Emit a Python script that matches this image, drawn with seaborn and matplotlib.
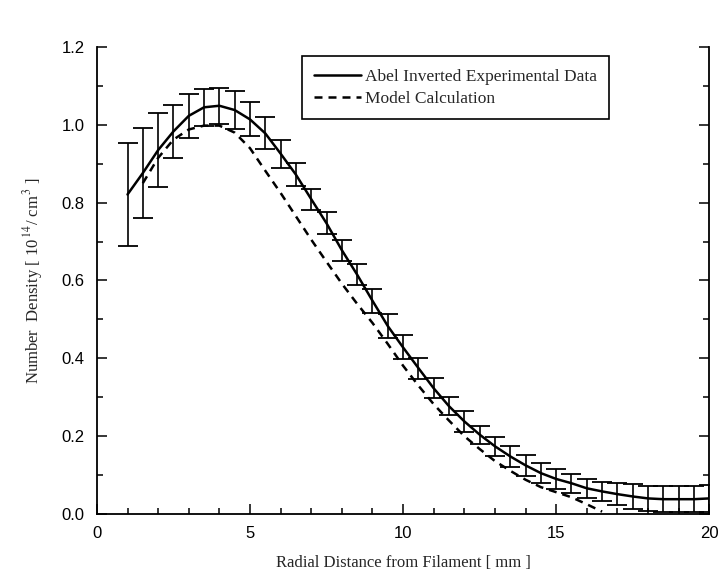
import numpy as np
import pandas as pd
import matplotlib
matplotlib.use("Agg")
import matplotlib.pyplot as plt
from matplotlib.ticker import MultipleLocator
import seaborn as sns

# Radial positions of the Abel-inverted profile [mm]
radius_exp = [1.0, 1.5, 2.0, 2.5, 3.0, 3.5, 4.0, 4.5, 5.0, 5.5, 6.0, 6.5, 7.0,
              7.5, 8.0, 8.5, 9.0, 9.5, 10.0, 10.5, 11.0, 11.5, 12.0, 12.5,
              13.0, 13.5, 14.0, 14.5, 15.0, 15.5, 16.0, 16.5, 17.0, 17.5,
              18.0, 18.5, 19.0, 19.5, 20.0]
# Number density [1e14 / cm^3]
density_exp = [0.821, 0.876, 0.935, 0.983, 1.023, 1.045, 1.049, 1.038, 1.014,
               0.978, 0.926, 0.872, 0.809, 0.747, 0.678, 0.615, 0.548, 0.483,
               0.428, 0.375, 0.323, 0.277, 0.238, 0.204, 0.174, 0.148, 0.125,
               0.105, 0.090, 0.079, 0.066, 0.058, 0.051, 0.045, 0.040, 0.038,
               0.038, 0.038, 0.040]
# Uncertainty of the inversion (half width)
density_err = [0.133, 0.115, 0.095, 0.068, 0.057, 0.047, 0.046, 0.050, 0.044,
               0.041, 0.036, 0.030, 0.027, 0.028, 0.027, 0.027, 0.031, 0.030,
               0.031, 0.027, 0.026, 0.023, 0.027, 0.023, 0.024, 0.026, 0.027,
               0.025, 0.026, 0.025, 0.024, 0.025, 0.028, 0.031, 0.032, 0.033,
               0.034, 0.034, 0.034]

# Model calculation
radius_model = [1.5, 2.0, 2.5, 3.0, 3.5, 4.0, 4.5, 5.0, 5.5, 6.0, 6.5, 7.0,
                7.5, 8.0, 8.5, 9.0, 9.5, 10.0, 10.5, 11.0, 11.5, 12.0, 12.5,
                13.0, 13.5, 14.0, 14.5, 15.0, 15.5, 16.0, 16.5]
density_model = [0.850, 0.915, 0.962, 0.988, 0.998, 0.998, 0.980, 0.940, 0.882,
                 0.825, 0.765, 0.705, 0.648, 0.592, 0.540, 0.491, 0.437, 0.381,
                 0.330, 0.282, 0.240, 0.200, 0.167, 0.136, 0.111, 0.088, 0.069,
                 0.056, 0.043, 0.025, 0.006]

exp_df = pd.DataFrame({"r": radius_exp, "n": density_exp, "err": density_err})
model_df = pd.DataFrame({"r": radius_model, "n": density_model})

sns.set_style("ticks")
plt.rcParams["font.family"] = ["Liberation Serif", "DejaVu Serif"]
plt.rcParams["mathtext.fontset"] = "stix"

fig = plt.figure(figsize=(7.23, 5.73), dpi=100)
ax = fig.add_axes([0.134, 0.103, 0.847, 0.815])

ax.errorbar(exp_df["r"], exp_df["n"], yerr=exp_df["err"], fmt="none",
            ecolor="black", elinewidth=1.2, capsize=7.5, capthick=1.3,
            zorder=2)
sns.lineplot(data=exp_df, x="r", y="n", ax=ax, color="black", lw=1.8,
             label="Abel Inverted Experimental Data", zorder=3)
sns.lineplot(data=model_df, x="r", y="n", ax=ax, color="black", lw=1.8,
             linestyle=(0, (3.2, 2.4)), label="Model Calculation", zorder=3)

ax.set_xlim(0, 20)
ax.set_ylim(0, 1.2)
ax.xaxis.set_major_locator(MultipleLocator(5))
ax.xaxis.set_minor_locator(MultipleLocator(1))
ax.yaxis.set_major_locator(MultipleLocator(0.2))
ax.yaxis.set_minor_locator(MultipleLocator(0.1))
ax.yaxis.set_major_formatter(matplotlib.ticker.FormatStrFormatter("%.1f"))

for side in ["left", "bottom", "right"]:
    ax.spines[side].set_linewidth(1.3)
    ax.spines[side].set_color("black")
ax.spines["top"].set_visible(False)

ax.tick_params(which="both", direction="in", right=True, top=False,
               colors="black", width=1.1)
ax.tick_params(which="major", length=7)
ax.tick_params(which="minor", length=4)
for lab in ax.get_xticklabels() + ax.get_yticklabels():
    lab.set_family(["Liberation Sans", "DejaVu Sans"])
    lab.set_fontsize(12)
ax.tick_params(axis="x", pad=9)
ax.tick_params(axis="y", pad=9)

ax.set_xlabel("Radial Distance from Filament [ mm ]", fontsize=12,
              labelpad=10)
ax.set_ylabel(r"Number  Density [ 10$^{\,14}$/ cm$^{\,3}$ ]", fontsize=12,
              labelpad=12)

leg = ax.legend(loc="upper left", bbox_to_anchor=(0.335, 0.98),
                frameon=True, fancybox=False, fontsize=12.5,
                handlelength=2.7, handletextpad=0.2, borderpad=0.7,
                labelspacing=0.35, borderaxespad=0)
leg.get_frame().set_edgecolor("black")
leg.get_frame().set_linewidth(1.2)
leg.get_frame().set_alpha(1)

fig.savefig("out.png", dpi=100)
